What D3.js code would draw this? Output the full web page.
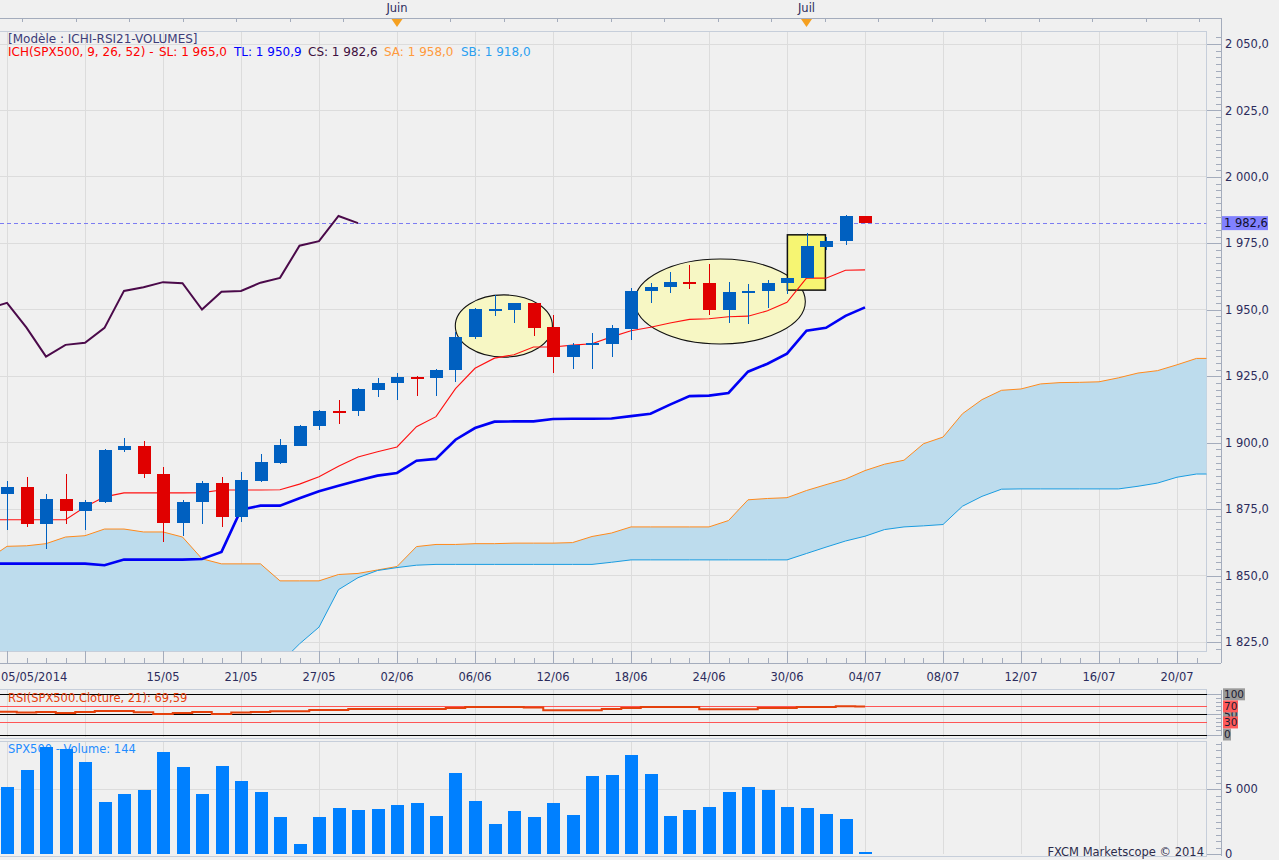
<!DOCTYPE html>
<html><head><meta charset="utf-8">
<script src="https://cdn.jsdelivr.net/npm/d3@7"></script>
<style>
html,body{margin:0;padding:0;background:#f0f0f0;overflow:hidden;}
svg{display:block;font-family:"DejaVu Sans",Verdana,sans-serif;}
</style></head><body>
<svg id="c" width="1279" height="860"></svg>
<script>
// ---------- DATA ----------
const barDates = ["05/05","06/05","07/05","08/05","09/05","12/05","13/05","14/05","15/05","16/05",
  "19/05","20/05","21/05","22/05","23/05","26/05","27/05","28/05","29/05","30/05",
  "02/06","03/06","04/06","05/06","06/06","09/06","10/06","11/06","12/06","13/06",
  "16/06","17/06","18/06","19/06","20/06","23/06","24/06","25/06","26/06","27/06",
  "30/06","01/07","02/07","03/07","04/07"];
const openV  = [1880.6,1883.5,1869.3,1878.9,1874.2,1877.6,1897.1,1898.9,1888.3,1869.7,
  1877.6,1885.0,1871.9,1885.7,1892.5,1898.9,1906.1,1912.0,1911.8,1920.0,
  1922.3,1924.8,1924.2,1927.2,1939.6,1949.9,1950.0,1952.6,1943.6,1932.4,
  1936.7,1937.3,1942.9,1956.9,1958.4,1960.5,1960.2,1950.1,1956.5,1956.9,
  1959.9,1961.9,1973.8,1975.7,1985.3];
const highV  = [1885.7,1887.2,1880.5,1888.3,1878.6,1897.6,1901.9,1900.8,1891.0,1878.6,
  1885.7,1887.2,1889.1,1895.9,1901.5,1906.8,1912.2,1916.2,1920.5,1924.4,
  1926.3,1924.9,1927.8,1941.8,1950.5,1955.6,1952.7,1952.7,1948.1,1937.6,
  1941.4,1944.4,1958.2,1960.0,1964.3,1966.9,1967.3,1960.5,1959.8,1961.3,
  1962.1,1978.9,1977.3,1985.7,1985.4];
const lowV   = [1867.0,1868.2,1859.9,1869.3,1867.0,1877.4,1896.4,1886.6,1862.5,1864.8,
  1869.3,1868.2,1870.0,1885.3,1892.1,1898.6,1904.9,1907.1,1909.9,1917.0,
  1916.2,1917.7,1917.7,1922.7,1939.1,1947.5,1945.0,1940.2,1926.1,1927.6,
  1927.6,1932.4,1938.7,1952.7,1956.5,1957.9,1947.9,1945.2,1944.5,1950.5,
  1956.0,1961.8,1972.6,1974.2,1982.5];
const closeV = [1883.5,1869.3,1878.9,1874.2,1877.8,1897.4,1898.9,1888.1,1869.7,1877.8,
  1885.0,1871.9,1886.1,1892.9,1899.3,1906.4,1912.0,1911.8,1920.3,1922.6,
  1924.8,1924.2,1927.4,1939.8,1950.4,1950.4,1952.6,1943.3,1932.4,1936.8,
  1937.6,1943.2,1957.1,1958.5,1960.4,1960.0,1950.1,1956.8,1957.1,1960.2,
  1962.0,1974.1,1975.8,1985.3,1982.6];
const volumeV = [5180,6490,8250,8040,7110,3970,4640,4950,7810,6730,
  4640,6800,5640,4790,2860,770,2860,3560,3400,3480,
  3790,3940,2940,6260,4100,2320,3320,2860,3940,3020,
  6030,6110,7650,6190,2940,3400,3630,4790,5180,4950,
  3630,3560,3090,2710,144];
// Ichimoku lines, first value is the bar before 05/05 (index -1)
const tenkanV = [1871.0,1871.0,1871.0,1871.0,1871.0,1875.8,1879.6,1881.1,1881.1,1881.1,1881.1,1881.2,
  1882.2,1882.2,1882.2,1882.3,1884.4,1887.2,1891.1,1894.6,1896.6,1898.4,1906.0,1909.8,1920.3,1928.0,
  1931.8,1933.1,1936.0,1936.0,1936.7,1937.2,1939.8,1942.1,1943.4,1945.0,1946.4,1946.6,1947.4,1947.6,
  1949.6,1952.8,1961.9,1961.9,1964.9,1965.0];
const kijunV = [1854.5,1854.5,1854.5,1854.5,1854.5,1854.5,1853.9,1856.0,1856.0,1856.0,1856.0,1856.2,
  1858.9,1874.8,1876.3,1876.3,1879.1,1881.7,1883.8,1885.8,1887.6,1888.6,1893.2,1893.9,1901.1,1905.5,
  1907.9,1908.0,1908.0,1908.9,1909.0,1909.0,1909.1,1910.0,1910.9,1914.3,1917.5,1917.7,1918.7,1926.7,
  1929.7,1933.5,1942.1,1943.2,1947.7,1950.9];
const chikouV = [1950.4,1952.6,1943.3,1932.4,1936.8,1937.6,1943.2,1957.1,1958.5,1960.4,1960.0,
  1950.1,1956.8,1957.1,1960.2,1962.0,1974.1,1975.8,1985.3,1982.6];
const senkouAV = [1856.0,1861.0,1861.2,1862.0,1864.5,1865.0,1867.5,1867.5,1866.4,1866.4,1864.5,
  1856.3,1854.4,1854.4,1854.4,1848.0,1848.0,1848.0,1850.4,1850.8,1852.1,1853.4,1860.9,1861.7,1861.7,
  1862.0,1862.0,1862.2,1862.2,1862.2,1862.4,1864.7,1866.0,1868.3,1868.3,1868.3,1868.3,1868.3,1870.7,
  1878.5,1879.0,1879.3,1882.0,1884.2,1886.3,1889.5,1891.9,1893.4,1899.6,1902.1,1910.9,1916.2,1919.7,
  1920.2,1922.1,1922.6,1922.7,1922.9,1924.4,1926.2,1927.1,1929.3,1931.7,1931.7];
const senkouBV = [1810,1810,1810,1810,1810,1810,1810,1810,1810,1810,1810,1810,1810,1810,1812,1817,
  1824.3,1830.6,1844.7,1849.2,1851.9,1853.0,1853.9,1854.2,1854.2,1854.2,1854.2,1854.2,1854.2,1854.2,
  1854.2,1854.2,1855.0,1855.9,1855.9,1855.9,1855.9,1855.9,1855.9,1855.9,1855.9,1855.9,1858.3,1860.7,
  1863.0,1864.8,1867.3,1868.3,1868.7,1869.2,1876.1,1879.8,1882.5,1882.6,1882.6,1882.6,1882.6,1882.6,
  1882.6,1883.6,1884.8,1887.0,1888.2,1888.2];
const rsiV = [56.7,56.7,54.6,56.2,53.7,56.2,58.7,58.7,55.5,51.2,53.7,56.2,51.2,55.0,56.2,57.9,57.9,
  61.1,61.1,63.6,63.6,63.6,63.6,63.6,66.1,68.6,68.6,68.6,66.9,60.3,60.3,60.3,63.5,66.0,68.5,68.5,
  68.5,62.8,62.8,62.8,66.0,66.0,68.5,68.5,70.2,69.59];
const priceTicks = [1825,1850,1875,1900,1925,1950,1975,2000,2025,2050];
const xTickIdx = [0,4,8,12,16,20,24,28,32,36,40,44,48,52,56,60];
const xTickLabels = ["05/05/2014","","15/05","21/05","27/05","02/06","06/06","12/06","18/06","24/06",
  "30/06","04/07","08/07","12/07","16/07","20/07"];
const monthLabels = ["Juin","Juil"];
const monthIdx = [20,41];
const rsiLevels = [100,70,50,30,0];
const volTicks = [0,5000];
const lastPrice = 1982.6;
// annotations in data space: [centre bar, centre price, half width in bars, half height in points]
const ellipsesData = [[25.48,1943.9,2.49,11.7],[36.57,1953.1,4.37,16.0]];
const rectData = [[40.02,41.97,1957.4,1978.2]];

// ---------- SCALES ----------
const svg = d3.select("#c");
const plotR = 1206.5, axisX = 1221, mainTop = 31, mainBot = 651;
const x = d3.scaleLinear().domain([0,44]).range([7,865]);
const y = d3.scaleLinear().domain([1825,2050]).range([642,44]);
const yR = d3.scaleLinear().domain([0,100]).range([734.5,694.3]);
const yV = d3.scaleLinear().domain([0,5000]).range([854,789]);
const loc = d3.formatLocale({decimal:",",thousands:"\u00a0",grouping:[3],currency:["","€"]});
const fP = loc.format(",.1f"), fV = loc.format(",.0f");
const gridC = "#dcdcdc", axC = "#a4acbc", frameC = "#c6ceda", txtC = "#2c2c5c";

const defs = svg.append("defs");
defs.append("clipPath").attr("id","mc").append("rect").attr("x",0).attr("y",mainTop).attr("width",plotR).attr("height",mainBot-mainTop);
defs.append("clipPath").attr("id","rc").append("rect").attr("x",0).attr("y",690).attr("width",plotR).attr("height",48);

// ---------- GRID ----------
const g = svg.append("g").attr("shape-rendering","crispEdges");
priceTicks.forEach(v=>g.append("line").attr("x1",0).attr("x2",plotR).attr("y1",y(v)).attr("y2",y(v)).attr("stroke",gridC));
g.append("line").attr("x1",0).attr("x2",plotR).attr("y1",yV(5000)).attr("y2",yV(5000)).attr("stroke",gridC);
xTickIdx.forEach(i=>{
  [[mainTop,mainBot],[690,737],[742,854]].forEach(r=>g.append("line").attr("x1",x(i)).attr("x2",x(i)).attr("y1",r[0]).attr("y2",r[1]).attr("stroke",gridC));
});

// frames
const fr = svg.append("g").attr("shape-rendering","crispEdges").attr("fill","none").attr("stroke",frameC);
fr.append("line").attr("x1",0).attr("x2",plotR).attr("y1",mainTop).attr("y2",mainTop);
fr.append("line").attr("x1",plotR).attr("x2",plotR).attr("y1",mainTop).attr("y2",mainBot);
fr.append("line").attr("x1",0).attr("x2",plotR).attr("y1",mainBot).attr("y2",mainBot);
fr.append("line").attr("x1",0).attr("x2",plotR).attr("y1",689).attr("y2",689);
fr.append("line").attr("x1",plotR).attr("x2",plotR).attr("y1",689).attr("y2",738);
fr.append("line").attr("x1",0).attr("x2",plotR).attr("y1",738.5).attr("y2",738.5);
fr.append("line").attr("x1",0).attr("x2",plotR).attr("y1",741.5).attr("y2",741.5);
fr.append("line").attr("x1",plotR).attr("x2",plotR).attr("y1",741.5).attr("y2",856);
fr.append("line").attr("x1",0).attr("x2",plotR).attr("y1",856).attr("y2",856);

// ---------- MAIN PLOT ----------
const mp = svg.append("g").attr("clip-path","url(#mc)");
const ptsFrom = (arr,start)=>arr.map((v,k)=>({i:k+start,v}));
const A = ptsFrom(senkouAV,-1), B = ptsFrom(senkouBV,-1);
const cloud = A.map((d,k)=>({i:d.i,a:d.v,b:B[k].v}));
mp.append("path").datum(cloud).attr("fill","#bddced")
  .attr("d",d3.area().x(d=>x(d.i)).y0(d=>y(d.b)).y1(d=>y(d.a)));
const line = d3.line().x(d=>x(d.i)).y(d=>y(d.v));
mp.append("path").datum(A).attr("fill","none").attr("stroke","#ff8a1c").attr("stroke-width",1).attr("d",line);
mp.append("path").datum(B).attr("fill","none").attr("stroke","#1a9ce0").attr("stroke-width",1).attr("d",line);

// annotations
ellipsesData.forEach(e=>{
  mp.append("ellipse").attr("cx",x(e[0])).attr("cy",y(e[1]))
    .attr("rx",x(e[0]+e[2])-x(e[0])).attr("ry",y(e[1]-e[3])-y(e[1]))
    .attr("fill","#f7f7c4").attr("stroke","#111").attr("stroke-width",1.1);
});
rectData.forEach(r=>{
  mp.append("rect").attr("x",x(r[0])).attr("y",y(r[3])).attr("width",x(r[1])-x(r[0])).attr("height",y(r[2])-y(r[3]))
    .attr("fill","#f6f572").attr("stroke","#111").attr("stroke-width",1.5);
});

// current price line
mp.append("line").attr("x1",0).attr("x2",plotR).attr("y1",Math.round(y(lastPrice))+0.5).attr("y2",Math.round(y(lastPrice))+0.5)
  .attr("stroke","#7c7cf2").attr("stroke-dasharray","4,3");

mp.append("path").datum(ptsFrom(chikouV,-1)).attr("fill","none").attr("stroke","#4b0a4a").attr("stroke-width",2).attr("d",line);
mp.append("path").datum(ptsFrom(kijunV,-1)).attr("fill","none").attr("stroke","#0000f5").attr("stroke-width",2.6).attr("d",line);
mp.append("path").datum(ptsFrom(tenkanV,-1)).attr("fill","none").attr("stroke","#ff1010").attr("stroke-width",1.1).attr("d",line);

// candles
const candles = openV.map((o,i)=>({i,o,h:highV[i],l:lowV[i],c:closeV[i],d:barDates[i]}));
const cg = mp.append("g").attr("shape-rendering","crispEdges");
const col = d=> d.c>=d.o ? "#0060c0" : "#e00000";
cg.selectAll("line.w").data(candles).join("line").attr("class","w")
  .attr("x1",d=>Math.round(x(d.i))+0.5).attr("x2",d=>Math.round(x(d.i))+0.5)
  .attr("y1",d=>y(d.h)).attr("y2",d=>y(d.l)).attr("stroke",col).attr("stroke-width",1.3);
cg.selectAll("rect.b").data(candles).join("rect").attr("class","b")
  .attr("x",d=>Math.round(x(d.i))-6).attr("width",13)
  .attr("y",d=>y(Math.max(d.o,d.c)))
  .attr("height",d=>Math.max(2,Math.abs(y(d.o)-y(d.c))))
  .attr("fill",col);

// ---------- RIGHT PRICE AXIS ----------
const ax = svg.append("g").attr("shape-rendering","crispEdges");
ax.append("line").attr("x1",axisX+0.5).attr("x2",axisX+0.5).attr("y1",18).attr("y2",663).attr("stroke",axC);
d3.range(1822.5,2052.6,2.5).forEach(v=>{
  const major = Math.abs(v%25)<0.01;
  if (y(v)<mainTop || y(v)>mainBot) return;
  ax.append("line").attr("x1",major?plotR:axisX-5).attr("x2",axisX).attr("y1",Math.round(y(v))+0.5).attr("y2",Math.round(y(v))+0.5).attr("stroke",axC);
});
const tx = svg.append("g").attr("font-size",11.5).attr("fill",txtC);
priceTicks.forEach(v=>tx.append("text").attr("x",1225).attr("y",y(v)).attr("dy","0.36em").text(fP(v)));
svg.append("rect").attr("x",1222).attr("y",y(lastPrice)-7).attr("width",46).attr("height",14).attr("fill","#8181ff");
svg.append("text").attr("x",1224).attr("y",y(lastPrice)).attr("dy","0.36em").attr("font-size",11.5).attr("fill","#101030").text(fP(lastPrice));

// ---------- X AXIS ----------
ax.append("line").attr("x1",0).attr("x2",axisX).attr("y1",663.5).attr("y2",663.5).attr("stroke",axC);
d3.range(0,62).forEach(i=>{
  const major = i%4===0;
  ax.append("line").attr("x1",Math.round(x(i))+0.5).attr("x2",Math.round(x(i))+0.5).attr("y1",major?651:658).attr("y2",663).attr("stroke",axC);
});
xTickIdx.forEach((i,k)=>{
  if(!xTickLabels[k]) return;
  tx.append("text").attr("x",k===0?1:x(i)).attr("y",681).attr("text-anchor",k===0?"start":"middle").text(xTickLabels[k]);
});

// ---------- HEADER ----------
ax.append("line").attr("x1",0).attr("x2",axisX).attr("y1",18.5).attr("y2",18.5).attr("stroke",axC);
d3.range(22,1215,53.5).forEach(p=>ax.append("line").attr("x1",Math.round(p)+0.5).attr("x2",Math.round(p)+0.5).attr("y1",18).attr("y2",22).attr("stroke",axC));
monthIdx.forEach((i,k)=>{
  const cx = x(i);
  tx.append("text").attr("x",cx).attr("y",12).attr("text-anchor","middle").text(monthLabels[k]);
  svg.append("path").attr("d",`M${cx-5.5},19 L${cx+5.5},19 L${cx},27 Z`).attr("fill","#f5a020");
});

// ---------- LEGEND ----------
const lg = svg.append("g").attr("font-size",12);
lg.append("text").attr("x",8).attr("y",43).attr("fill","#3c3c78").text("[Modèle : ICHI-RSI21-VOLUMES]");
const legendParts = [["ICH(SPX500, 9, 26, 52) -","#ff0000",8],["SL: 1 965,0","#ff0000",159],["TL: 1 950,9","#0000ff",234],
  ["CS: 1 982,6","#40103f",308],["SA: 1 958,0","#ff9a3c",384],["SB: 1 918,0","#2a9ff0",461]];
legendParts.forEach(p=>lg.append("text").attr("x",p[2]).attr("y",56).attr("fill",p[1]).text(p[0]));

// ---------- RSI PANEL ----------
const rp = svg.append("g");
const rg = rp.append("g").attr("shape-rendering","crispEdges");
rsiLevels.forEach(v=>rg.append("line").attr("x1",0).attr("x2",plotR).attr("y1",Math.round(yR(v))+0.5).attr("y2",Math.round(yR(v))+0.5)
  .attr("stroke",(v===70||v===30)?"#ff5555":"#000").attr("stroke-width",1));
rp.append("path").datum(ptsFrom(rsiV,-1)).attr("clip-path","url(#rc)").attr("fill","none").attr("stroke","#e4400c").attr("stroke-width",2)
  .attr("d",d3.line().curve(d3.curveStep).x(d=>x(d.i)).y(d=>yR(d.v)));
rp.append("text").attr("x",8).attr("y",702).attr("font-size",11.5).attr("fill","#e4400c").text("RSI(SPX500.Cloture, 21): 69,59");
ax.append("line").attr("x1",axisX+0.5).attr("x2",axisX+0.5).attr("y1",690).attr("y2",736).attr("stroke",axC);
d3.range(0,101,10).forEach(v=>ax.append("line").attr("x1",(v%50===0)?plotR:axisX-5).attr("x2",axisX).attr("y1",Math.round(yR(v))+0.5).attr("y2",Math.round(yR(v))+0.5).attr("stroke",axC));
const rl = svg.append("g").attr("font-size",10.5);
[[100,"#9a9a9a"],[50,"#9a9a9a"],[0,"#9a9a9a"],[70,"#ff5a5a"],[30,"#ff5a5a"]].forEach(r=>{
  const lab = String(r[0]);
  const w = lab.length*7+1;
  rl.append("rect").attr("x",1223).attr("y",yR(r[0])-6).attr("width",w).attr("height",12).attr("fill",r[1]);
  rl.append("text").attr("x",1224).attr("y",yR(r[0])).attr("dy","0.36em").attr("fill","#1a1a30").text(lab);
});

// ---------- VOLUME PANEL ----------
const vp = svg.append("g");
vp.append("text").attr("x",8).attr("y",753).attr("font-size",11.5).attr("fill","#1e8cff").text("SPX500 - Volume: 144");
vp.append("g").attr("shape-rendering","crispEdges").selectAll("rect").data(volumeV).join("rect")
  .attr("x",(d,i)=>Math.round(x(i))-6).attr("width",13)
  .attr("y",d=>yV(d)).attr("height",d=>Math.max(1.5,yV(0)-yV(d))).attr("fill","#0080ff");
ax.append("line").attr("x1",axisX+0.5).attr("x2",axisX+0.5).attr("y1",742).attr("y2",856).attr("stroke",axC);
d3.range(0,8501,500).forEach(v=>{
  if (yV(v)<743) return;
  ax.append("line").attr("x1",(v%5000===0)?plotR:axisX-5).attr("x2",axisX).attr("y1",Math.round(yV(v))+0.5).attr("y2",Math.round(yV(v))+0.5).attr("stroke",axC);
});
volTicks.forEach(v=>tx.append("text").attr("x",1225).attr("y",yV(v)).attr("dy","0.36em").text(fV(v)));
svg.append("text").attr("x",1204).attr("y",856).attr("text-anchor","end").attr("font-size",11.5).attr("fill","#2c2c4c").text("FXCM Marketscope © 2014");
</script>
</body></html>
